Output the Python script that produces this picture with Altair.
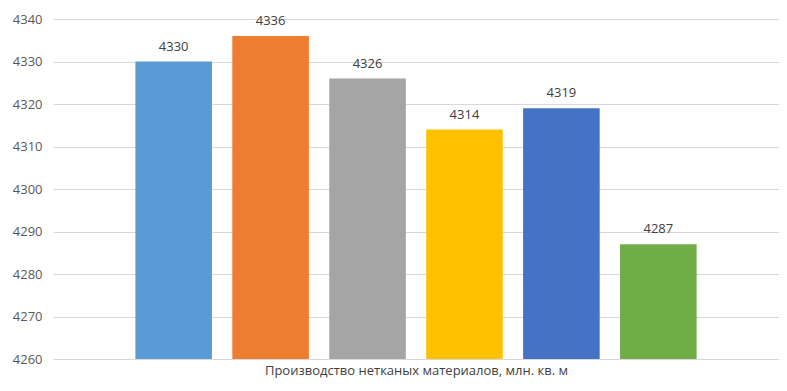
import altair as alt
import pandas as pd

categories = ["Ряд 1", "Ряд 2", "Ряд 3", "Ряд 4", "Ряд 5", "Ряд 6"]
values = [4330, 4336, 4326, 4314, 4319, 4287]
colors = ["#5B9BD5", "#ED7D31", "#A5A5A5", "#FFC000", "#4472C4", "#70AD47"]
y_ticks = [4260, 4270, 4280, 4290, 4300, 4310, 4320, 4330, 4340]
x_title = "Производство нетканых материалов, млн. кв. м"

df = pd.DataFrame({"cat": categories, "value": values})

x = alt.X(
    "cat:N",
    sort=categories,
    scale=alt.Scale(paddingInner=0.21, paddingOuter=0.85),
    axis=alt.Axis(
        title=x_title,
        labels=False,
        ticks=False,
        domain=True,
        domainColor="#D9D9D9",
        titleFont="Open Sans",
        titleFontSize=13,
        titleFontWeight="normal",
        titleColor="#404040",
        titlePadding=5,
    ),
)
y = alt.Y(
    "value:Q",
    scale=alt.Scale(domain=[4260, 4340], zero=False, nice=False),
    axis=alt.Axis(
        title=None,
        values=y_ticks,
        format="d",
        ticks=False,
        domain=False,
        grid=True,
        gridColor="#D9D9D9",
        gridWidth=1,
        labelFont="Open Sans",
        labelFontSize=13,
        labelColor="#595959",
        labelPadding=11,
    ),
)

base = alt.Chart(df)
bars = base.mark_bar().encode(
    x=x,
    y=y,
    y2=alt.datum(4260),
    color=alt.Color("cat:N", scale=alt.Scale(domain=categories, range=colors), legend=None),
)
text = base.mark_text(
    baseline="bottom", dy=-8, font="Open Sans", fontSize=13, color="#404040"
).encode(
    x=alt.X("cat:N", sort=categories),
    y=alt.Y("value:Q"),
    text=alt.Text("value:Q", format="d"),
)

chart = (
    alt.layer(bars, text)
    .properties(
        width=726,
        height=340,
        autosize=alt.AutoSizeParams(type="none"),
        padding={"left": 45, "top": 11, "right": 0, "bottom": 24},
    )
    .configure_view(stroke=None)
)

chart.save("out.html", embed_options={"renderer": "svg", "actions": False})
